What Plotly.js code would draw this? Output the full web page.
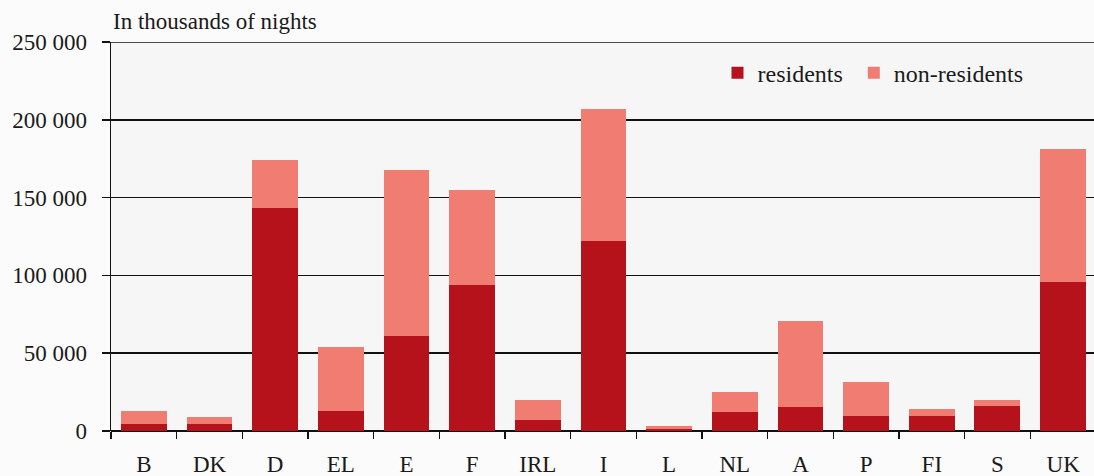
<!DOCTYPE html>
<html>
<head>
<meta charset="utf-8">
<script src="https://cdn.plot.ly/plotly-3.0.1.min.js"></script>
<style>html,body{margin:0;padding:0;background:#fafafa;}#chart{width:1094px;height:476px;}</style>
</head>
<body>
<div id="chart"></div>
<script>
const countries = ["B","DK","D","EL","E","F","IRL","I","L","NL","A","P","FI","S","UK"];
const residents = [4300, 4300, 143300, 13100, 61000, 93800, 6900, 122300, 1000, 12000, 15500, 9500, 9500, 16000, 96000];
const nonResidents = [8600, 4500, 30900, 41100, 106600, 61000, 13200, 84500, 2000, 13000, 55000, 22000, 4500, 4000, 85000];
const seriesNames = ["residents", "non-residents"];

const traces = [
  {type:"bar", name:seriesNames[0] + "\u00a0", x:countries, y:residents,
   marker:{color:"#b5121b", line:{width:0}}},
  {type:"bar", name:seriesNames[1], x:countries, y:nonResidents,
   marker:{color:"#f07c72", line:{width:0}}}
];

const layout = {
  width:1094, height:476,
  barmode:"stack", bargap:0.3,
  paper_bgcolor:"#fbfbfb", plot_bgcolor:"#f6f6f6",
  separators:". ",
  font:{family:"Liberation Serif, serif", color:"#1a1a1a", size:23},
  margin:{l:111, r:0, t:42, b:45},
  title:{text:"In thousands of nights", x:0, xref:"paper", xanchor:"left", y:0.955, yref:"container", yanchor:"middle", font:{size:23, family:"Liberation Serif, serif", color:"#1a1a1a"}, pad:{l:2}},
  xaxis:{type:"category", range:[-0.5, 14.47], showgrid:false, showline:false, zeroline:false,
    ticks:"outside", tickson:"boundaries", ticklen:7, tickwidth:1.5, tickcolor:"#111",
    ticklabelstandoff:17, tickfont:{size:23}},
  yaxis:{range:[0,250000], tickvals:[0,50000,100000,150000,200000,250000], tickformat:",d",
    showgrid:true, gridcolor:"#111", gridwidth:1.5, showline:true, linecolor:"#111", linewidth:1.5,
    zeroline:true, zerolinecolor:"#111", zerolinewidth:1.5,
    ticks:"outside", ticklen:8, tickwidth:1.5, tickcolor:"#111", ticklabelstandoff:10, tickfont:{size:23}},
  shapes:[{type:"line", xref:"paper", yref:"y", x0:0, x1:1, y0:250000, y1:250000, line:{color:"#111", width:1.5}}],
  legend:{orientation:"h", x:0.617, xanchor:"left", y:0.92, yanchor:"middle", bgcolor:"rgba(0,0,0,0)",
    font:{size:24}, traceorder:"normal", itemwidth:30}
};

Plotly.newPlot("chart", traces, layout, {displayModeBar:false, staticPlot:true});
</script>
</body>
</html>
